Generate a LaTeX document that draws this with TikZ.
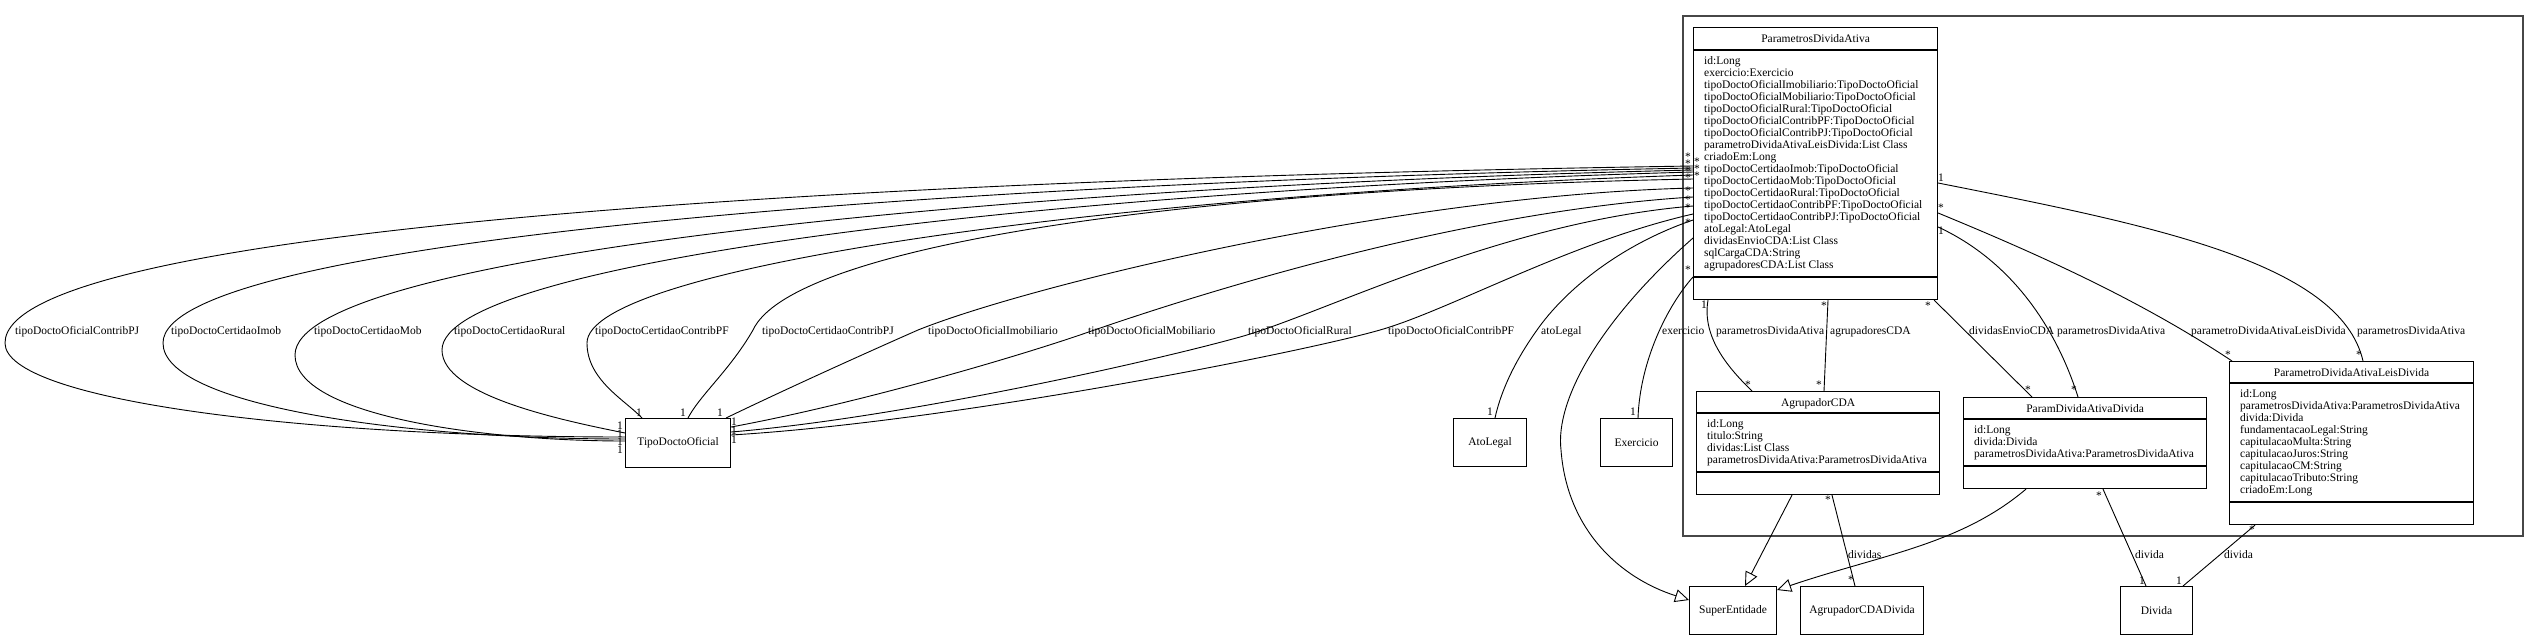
\documentclass[tikz,border=0pt]{standalone}
\usepackage{fontspec}
\setmainfont{Liberation Serif}
\usetikzlibrary{arrows.meta}
\tikzset{
  every node/.style={font=\fontsize{11.5}{12}\selectfont, inner sep=0pt},
  box/.style={draw, line width=1.1pt, anchor=north west, inner sep=0pt},
  sepline/.style={line width=1.1pt},
  pkg/.style={draw=black!72, line width=1.5pt},
  conn/.style={line width=0.9pt},
  inh/.style={conn, -{Triangle[open, length=14pt, width=13pt, line width=0.9pt]}},
  attr/.style={anchor=north west, align=left},
  ttl/.style={anchor=base},
  elab/.style={anchor=base west},
  mult/.style={anchor=base}
}
\begin{document}
\begin{tikzpicture}[x=1pt,y=-1pt]
\fill[white] (0,0) rectangle (2539,640);
\useasboundingbox (0,0) rectangle (2539,640);

% package frame
\draw[pkg] (1683,16) rectangle (2523,536);

% ---------- classes ----------
\node[box, minimum width=244pt, minimum height=272pt] (P) at (1693,27) {};
\draw[sepline] ([shift={(0,23)}]P.north west) -- ([shift={(0,23)}]P.north east);
\draw[sepline] ([shift={(0,250)}]P.north west) -- ([shift={(0,250)}]P.north east);
\node[ttl] (Pt) at ([shift={(0,15.5)}]P.north) {ParametrosDividaAtiva};
\node[attr] (Pa) at ([shift={(11,28.6)}]P.north west) {\strut id:Long\\exercicio:Exercicio\\tipoDoctoOficialImobiliario:TipoDoctoOficial\\tipoDoctoOficialMobiliario:TipoDoctoOficial\\tipoDoctoOficialRural:TipoDoctoOficial\\tipoDoctoOficialContribPF:TipoDoctoOficial\\tipoDoctoOficialContribPJ:TipoDoctoOficial\\parametroDividaAtivaLeisDivida:List Class\\criadoEm:Long\\tipoDoctoCertidaoImob:TipoDoctoOficial\\tipoDoctoCertidaoMob:TipoDoctoOficial\\tipoDoctoCertidaoRural:TipoDoctoOficial\\tipoDoctoCertidaoContribPF:TipoDoctoOficial\\tipoDoctoCertidaoContribPJ:TipoDoctoOficial\\atoLegal:AtoLegal\\dividasEnvioCDA:List Class\\sqlCargaCDA:String\\agrupadoresCDA:List Class};

\node[box, minimum width=243pt, minimum height=103pt] (A) at (1696,391) {};
\draw[sepline] ([shift={(0,22)}]A.north west) -- ([shift={(0,22)}]A.north east);
\draw[sepline] ([shift={(0,81)}]A.north west) -- ([shift={(0,81)}]A.north east);
\node[ttl] (At) at ([shift={(0,15)}]A.north) {AgrupadorCDA};
\node[attr] (Aa) at ([shift={(11,27.6)}]A.north west) {\strut id:Long\\titulo:String\\dividas:List Class\\parametrosDividaAtiva:ParametrosDividaAtiva};

\node[box, minimum width=243pt, minimum height=91pt] (PD) at (1963,397) {};
\draw[sepline] ([shift={(0,22)}]PD.north west) -- ([shift={(0,22)}]PD.north east);
\draw[sepline] ([shift={(0,69)}]PD.north west) -- ([shift={(0,69)}]PD.north east);
\node[ttl] (PDt) at ([shift={(0,15)}]PD.north) {ParamDividaAtivaDivida};
\node[attr] (PDa) at ([shift={(11,27.6)}]PD.north west) {\strut id:Long\\divida:Divida\\parametrosDividaAtiva:ParametrosDividaAtiva};

\node[box, minimum width=244pt, minimum height=163pt] (L) at (2229,361) {};
\draw[sepline] ([shift={(0,22)}]L.north west) -- ([shift={(0,22)}]L.north east);
\draw[sepline] ([shift={(0,141)}]L.north west) -- ([shift={(0,141)}]L.north east);
\node[ttl] (Lt) at ([shift={(0,15)}]L.north) {ParametroDividaAtivaLeisDivida};
\node[attr] (La) at ([shift={(11,27.6)}]L.north west) {\strut id:Long\\parametrosDividaAtiva:ParametrosDividaAtiva\\divida:Divida\\fundamentacaoLegal:String\\capitulacaoMulta:String\\capitulacaoJuros:String\\capitulacaoCM:String\\capitulacaoTributo:String\\criadoEm:Long};

\node[box, minimum width=87pt, minimum height=48pt] (S) at (1689,586) {};
\node (St) at (S.center) {SuperEntidade};
\node[box, minimum width=123pt, minimum height=48pt] (AD) at (1800,586) {};
\node (ADt) at (AD.center) {AgrupadorCDADivida};
\node[box, minimum width=72pt, minimum height=48pt] (D) at (2120,586) {};
\node (Dt) at (D.center) {Divida};
\node[box, minimum width=105pt, minimum height=49pt] (T) at (625,418) {};
\node (Tt) at (T.center) {TipoDoctoOficial};
\node[box, minimum width=73pt, minimum height=48pt] (AL) at (1453,418) {};
\node (ALt) at (AL.center) {AtoLegal};
\node[box, minimum width=72pt, minimum height=48pt] (E) at (1600,418) {};
\node (Et) at (E.center) {Exercicio};

% ---------- ports ----------
\coordinate (t1) at ([shift={(0,139)}]P.north west);
\coordinate (t2) at ([shift={(0,141)}]P.north west);
\coordinate (t3) at ([shift={(0,143)}]P.north west);
\coordinate (t4) at ([shift={(0,145)}]P.north west);
\coordinate (t5) at ([shift={(0,148)}]P.north west);
\coordinate (t6) at ([shift={(0,152)}]P.north west);
\coordinate (t7) at ([shift={(0,161)}]P.north west);
\coordinate (t8) at ([shift={(0,170)}]P.north west);
\coordinate (t9) at ([shift={(0,179)}]P.north west);
\coordinate (t10) at ([shift={(0,187)}]P.north west);
\coordinate (ta) at ([shift={(0,193)}]P.north west);
\coordinate (ts) at ([shift={(0,211)}]P.north west);
\coordinate (te) at ([shift={(0,250)}]P.north west);
\coordinate (h1) at ([shift={(0,19)}]T.north west);
\coordinate (h2) at ([shift={(0,21)}]T.north west);
\coordinate (h3) at ([shift={(0,23)}]T.north west);
\coordinate (h4) at ([shift={(0,15)}]T.north west);
\coordinate (h5) at ([shift={(17,0)}]T.north west);
\coordinate (h6) at ([shift={(63,0)}]T.north west);
\coordinate (h7) at ([shift={(101,0)}]T.north west);
\coordinate (h8) at ([shift={(0,9)}]T.north east);
\coordinate (h9) at ([shift={(0,14)}]T.north east);
\coordinate (h10) at ([shift={(0,17)}]T.north east);

% ---------- connectors to TipoDoctoOficial ----------
\draw[conn] (t1) .. controls (900,178) and (5,225) .. (5,343) .. controls (5,400) and (300,437) .. (h1);
\draw[conn] (t2) .. controls (950,182) and (163,240) .. (163,343) .. controls (163,405) and (400,439) .. (h2);
\draw[conn] (t3) .. controls (1000,186) and (295,255) .. (295,355) .. controls (295,415) and (480,441) .. (h3);
\draw[conn] (t4) .. controls (1050,190) and (442,262) .. (442,350) .. controls (442,395) and (560,420) .. (h4);
\draw[conn] (t5) .. controls (1100,195) and (587,268) .. (587,343) .. controls (587,380) and (625,400) .. (h5);
\draw[conn] (t6) .. controls (1150,190) and (790,250) .. (753,330) .. controls (730,370) and (700,395) .. (h6);
\draw[conn] (t7) .. controls (1400,195) and (1030,285) .. (918,330) .. controls (850,360) and (780,392) .. (h7);
\draw[conn] (t8) .. controls (1450,212) and (1180,300) .. (1080,335) .. controls (1000,362) and (850,405) .. (h8);
\draw[conn] (t9) .. controls (1500,222) and (1320,315) .. (1240,337) .. controls (1150,362) and (900,418) .. (h9);
\draw[conn] (t10) .. controls (1570,242) and (1450,310) .. (1380,330) .. controls (1300,353) and (950,422) .. (h10);

\node[elab] (l1) at (15,334) {tipoDoctoOficialContribPJ};
\node[elab] (l2) at (171,334) {tipoDoctoCertidaoImob};
\node[elab] (l3) at (314,334) {tipoDoctoCertidaoMob};
\node[elab] (l4) at (454,334) {tipoDoctoCertidaoRural};
\node[elab] (l5) at (595,334) {tipoDoctoCertidaoContribPF};
\node[elab] (l6) at (762,334) {tipoDoctoCertidaoContribPJ};
\node[elab] (l7) at (928,334) {tipoDoctoOficialImobiliario};
\node[elab] (l8) at (1088,334) {tipoDoctoOficialMobiliario};
\node[elab] (l9) at (1248,334) {tipoDoctoOficialRural};
\node[elab] (l10) at (1388,334) {tipoDoctoOficialContribPF};

% ---------- other connectors ----------
\draw[conn] (ta) .. controls (1620,245) and (1565,290) .. (1537,330) .. controls (1512,365) and (1500,395) .. ([shift={(42,0)}]AL.north west);
\node[elab] (lal) at (1541,334) {atoLegal};
\draw[conn] (te) .. controls (1668,305) and (1640,360) .. ([shift={(38,0)}]E.north west);
\node[elab] (lex) at (1662,334) {exercicio};
\draw[inh] (ts) .. controls (1600,320) and (1555,400) .. (1561,450) .. controls (1567,530) and (1620,578) .. ([shift={(0,14)}]S.north west);

\draw[conn] ([shift={(15,0)}]P.south west) .. controls (1702,335) and (1725,365) .. ([shift={(56,0)}]A.north west);
\node[elab] (lpa) at (1716,334) {parametrosDividaAtiva};
\draw[conn] ([shift={(135,0)}]P.south west) -- ([shift={(128,0)}]A.north west);
\node[elab] (lag) at (1830,334) {agrupadoresCDA};
\draw[conn] ([shift={(-4,0)}]P.south east) -- ([shift={(69,0)}]PD.north west);
\node[elab] (lde) at (1969,334) {dividasEnvioCDA};
\draw[conn] ([shift={(0,200)}]P.north east) .. controls (2020,265) and (2060,340) .. ([shift={(115,0)}]PD.north west);
\node[elab] (lpp) at (2057,334) {parametrosDividaAtiva};
\draw[conn] ([shift={(0,186)}]P.north east) .. controls (2040,255) and (2140,300) .. ([shift={(3,0)}]L.north west);
\node[elab] (lpl) at (2191,334) {parametroDividaAtivaLeisDivida};
\draw[conn] ([shift={(0,156)}]P.north east) .. controls (2150,225) and (2340,262) .. ([shift={(134,0)}]L.north west);
\node[elab] (lpl2) at (2357,334) {parametrosDividaAtiva};

\draw[inh] ([shift={(96,0)}]A.south west) -- ([shift={(56,0)}]S.north west);
\draw[inh] ([shift={(63,0)}]PD.south west) .. controls (1960,545) and (1880,555) .. ([shift={(0,4)}]S.north east);
\draw[conn] ([shift={(136,0)}]A.south west) -- ([shift={(55,0)}]AD.north west);
\node[elab] (ldv) at (1848,558) {dividas};
\draw[conn] ([shift={(140,0)}]PD.south west) -- ([shift={(26,0)}]D.north west);
\node[elab] (ld1) at (2135,558) {divida};
\draw[conn] ([shift={(26,0)}]L.south west) -- ([shift={(63,0)}]D.north west);
\node[elab] (ld2) at (2224,558) {divida};

% ---------- multiplicities ----------
\node[mult] (s1) at (1688,160) {*};
\node[mult] (s2) at (1697,165) {*};
\node[mult] (s3) at (1688,167) {*};
\node[mult] (s4) at (1697,172) {*};
\node[mult] (s5) at (1688,174) {*};
\node[mult] (s6) at (1697,179) {*};
\node[mult] (s7) at (1688,181) {*};
\node[mult] (s8) at (1688,194) {*};
\node[mult] (s9) at (1688,203) {*};
\node[mult] (s10) at (1688,211) {*};
\node[mult] (s11) at (1688,226) {*};
\node[mult] (s12) at (1688,273) {*};
\node[mult] (o1) at (639,416) {1};
\node[mult] (o2) at (683,416) {1};
\node[mult] (o3) at (720,416) {1};
\node[mult] (o4) at (620,429) {1};
\node[mult] (o5) at (620,437) {1};
\node[mult] (o6) at (620,445) {1};
\node[mult] (o7) at (620,453) {1};
\node[mult] (o8) at (734,425) {1};
\node[mult] (o9) at (734,434) {1};
\node[mult] (o10) at (734,443) {1};
\node[mult] (oal) at (1490,415) {1};
\node[mult] (oex) at (1633,415) {1};
\node[mult] (r1) at (1941,181) {1};
\node[mult] (r2) at (1941,211) {*};
\node[mult] (r3) at (1941,234) {1};
\node[mult] (b1) at (1704,308) {1};
\node[mult] (b2) at (1824,309) {*};
\node[mult] (b3) at (1928,309) {*};
\node[mult] (a1) at (1748,388) {*};
\node[mult] (a2) at (1819,388) {*};
\node[mult] (p1) at (2028,393) {*};
\node[mult] (p2) at (2074,393) {*};
\node[mult] (q1) at (2228,358) {*};
\node[mult] (q2) at (2359,358) {*};
\node[mult] (a3) at (1828,503) {*};
\node[mult] (a4) at (1851,583) {*};
\node[mult] (p3) at (2099,499) {*};
\node[mult] (d1) at (2142,584) {1};
\node[mult] (q3) at (2252,533) {*};
\node[mult] (d2) at (2179,584) {1};
\end{tikzpicture}
\end{document}
